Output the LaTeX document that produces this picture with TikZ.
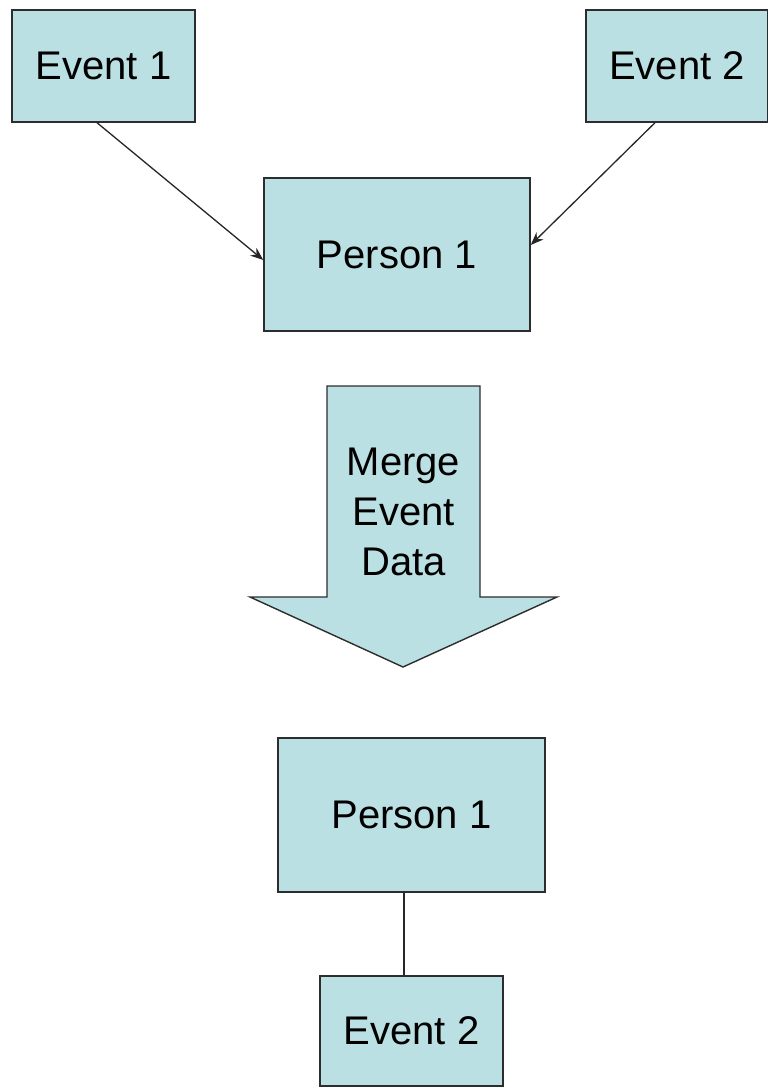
\documentclass[tikz,border=0pt]{standalone}
\usepackage{fontspec}
\setmainfont{Liberation Sans}
\usetikzlibrary{arrows.meta}
\definecolor{boxfill}{RGB}{187,224,227}
\definecolor{boxline}{RGB}{45,45,45}
\begin{document}
\begin{tikzpicture}[x=1pt,y=-1pt,
  box/.style={draw=boxline, fill=boxfill, line width=1.4pt, inner sep=0pt,
    font=\fontsize{40}{48}\selectfont},
  conn/.style={draw=black!85, line width=1.3pt},
  arr/.style={conn, -{Stealth[length=13pt,width=10pt]}}]
\useasboundingbox (0,0) rectangle (768,1088);
\node[box, minimum width=183pt, minimum height=112pt] (e1) at (103.5,66) {Event 1};
\node[box, minimum width=182pt, minimum height=112pt] (e2) at (677,66) {Event 2};
\node[box, minimum width=266pt, minimum height=153pt] (p1) at (397,254.5) {Person 1};
\draw[draw=boxline, fill=boxfill, line width=1.4pt]
  (327,386) -- (480,386) -- (480,597) -- (557,597) -- (403,667)
  -- (250,597) -- (327,597) -- cycle;
\node[font=\fontsize{40}{50}\selectfont, align=center] (merge) at (403.5,512) {Merge\\Event\\Data};
\node[box, minimum width=267pt, minimum height=154pt] (p2) at (411.5,815) {Person 1};
\node[box, minimum width=183pt, minimum height=110pt] (e3) at (411.5,1031) {Event 2};
\draw[arr] ([xshift=-6.5pt]e1.south) -- ([yshift=-5.5pt]p1.west);
\draw[arr] ([xshift=-22pt]e2.south) -- ([yshift=9.5pt]p1.east);
\draw[conn] ([xshift=-7.5pt]p2.south) -- ([xshift=-7.5pt]e3.north);
\end{tikzpicture}
\end{document}
